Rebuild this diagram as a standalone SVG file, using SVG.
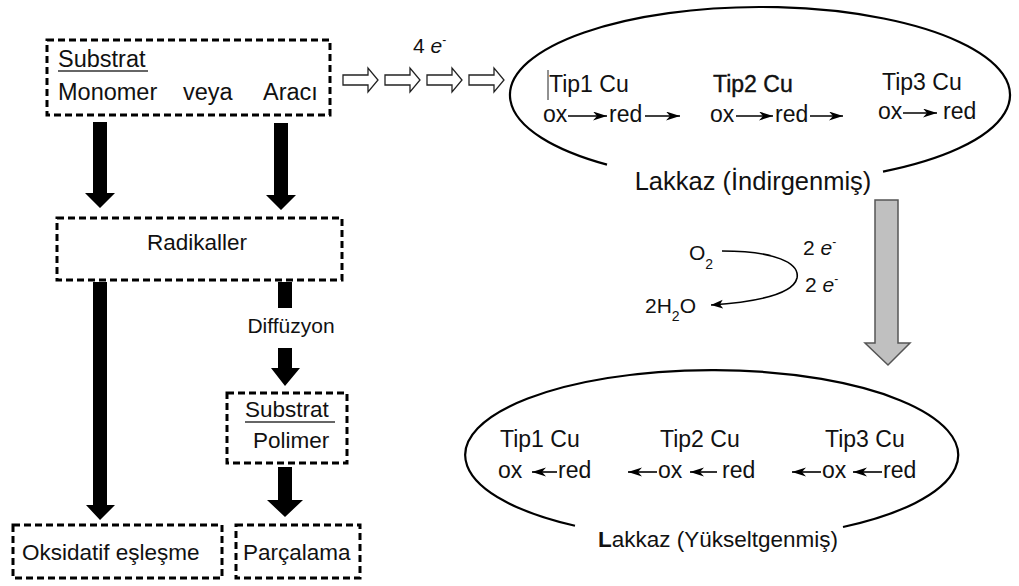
<svg xmlns="http://www.w3.org/2000/svg" width="1019" height="586" viewBox="0 0 1019 586">
<style>
text{font-family:"Liberation Sans",Arial,sans-serif;fill:#111}
.t23{font-size:23.5px}
.t22{font-size:22.5px}
.t21{font-size:21px}
.tc{font-size:23px}
.box{fill:none;stroke:#000;stroke-width:3;stroke-dasharray:7 4}
.blk{fill:#000}
.hol{fill:#fff;stroke:#222;stroke-width:1.3}
.ell{fill:none;stroke:#000;stroke-width:2.2}
.thin{fill:none;stroke:#000;stroke-width:1.6}
.ul{stroke:#333;stroke-width:1.3}
</style>
<defs>
<marker id="ah" markerUnits="userSpaceOnUse" markerWidth="15" markerHeight="10" refX="14" refY="4.5" orient="auto">
<path d="M0,0 L14,4.5 L0,9 L4,4.5 z" fill="#000"/>
</marker>
<marker id="ahc" markerUnits="userSpaceOnUse" markerWidth="14" markerHeight="10" refX="12" refY="4.5" orient="auto">
<path d="M0,0 L12,4.5 L0,9 L3,4.5 z" fill="#000"/>
</marker>
</defs>

<g id="substrat-monomer">
<rect class="box" x="47" y="40" width="283" height="75"/>
<text class="t23" x="58" y="67">Substrat</text>
<line class="ul" x1="58" y1="71" x2="148" y2="71"/>
<text class="t23" x="58" y="100">Monomer</text>
<text class="t23" x="183" y="100">veya</text>
<text class="t23" x="263" y="100">Aracı</text>
</g>

<g id="radikaller">
<rect class="box" x="57" y="218" width="285" height="62"/>
<text class="t22" x="197" y="250" text-anchor="middle">Radikaller</text>
</g>

<g id="diffuzyon">
<text class="t21" x="291" y="333" text-anchor="middle">Diffüzyon</text>
</g>

<g id="substrat-polimer">
<rect class="box" x="227" y="393" width="120" height="70"/>
<text class="t22" x="245" y="417">Substrat</text>
<line class="ul" x1="245" y1="422" x2="335" y2="422"/>
<text class="t22" x="253" y="448">Polimer</text>
</g>

<g id="oksidatif">
<rect class="box" x="13" y="525" width="209" height="53"/>
<text class="t22" x="22" y="560">Oksidatif eşleşme</text>
</g>

<g id="parcalama">
<rect class="box" x="236" y="525" width="124" height="53"/>
<text class="t22" x="243" y="560">Parçalama</text>
</g>

<g id="lakkaz-indirgenmis">
<path class="ell" d="M 607 164.6 A 250 88 0 1 1 883 171.6"/>
<line x1="548" y1="70" x2="548" y2="100" stroke="#222" stroke-width="1"/>
<text class="tc" x="549" y="92">Tip1 Cu</text>
<text class="tc" x="713" y="92" stroke="#111" stroke-width="0.4">Tip2 Cu</text>
<text class="tc" x="882" y="90">Tip3 Cu</text>
<text class="tc" x="543" y="122">ox</text>
<text class="tc" x="609" y="122">red</text>
<text class="tc" x="710" y="122">ox</text>
<text class="tc" x="775" y="122">red</text>
<text class="tc" x="878" y="119">ox</text>
<text class="tc" x="943" y="119">red</text>
<text x="753" y="190" text-anchor="middle" style="font-size:25.5px">Lakkaz (İndirgenmiş)</text>
</g>

<g id="lakkaz-yukseltgenmis">
<path class="ell" d="M 575 525.8 A 246.5 85 0 1 1 843 527"/>
<text class="tc" x="500" y="447">Tip1 Cu</text>
<text class="tc" x="660" y="447">Tip2 Cu</text>
<text class="tc" x="825" y="447">Tip3 Cu</text>
<text class="tc" x="498" y="478">ox</text>
<text class="tc" x="558" y="478">red</text>
<text class="tc" x="658" y="478">ox</text>
<text class="tc" x="722" y="478">red</text>
<text class="tc" x="822" y="478">ox</text>
<text class="tc" x="883" y="478">red</text>
<text x="718" y="547" text-anchor="middle" style="font-size:22.5px"><tspan font-weight="bold">L</tspan>akkaz (Yükseltgenmiş)</text>
</g>

<g id="oxygen">
<text class="t21" x="689" y="260">O<tspan font-size="14" dy="9">2</tspan></text>
<text class="t21" x="645" y="313">2H<tspan font-size="14" dy="8">2</tspan><tspan dy="-8">O</tspan></text>
<text class="t21" x="803" y="255">2 <tspan font-style="italic">e</tspan><tspan font-size="12" dy="-9">-</tspan></text>
<text class="t21" x="805" y="292">2 <tspan font-style="italic">e</tspan><tspan font-size="12" dy="-9">-</tspan></text>
</g>

<g id="electrons">
<text class="t21" x="413" y="53">4 <tspan font-style="italic">e</tspan><tspan font-size="12" dy="-9">-</tspan></text>
</g>

<g id="connectors">
<polygon class="blk" points="93,122 107,122 107,193 115,193 100,208 85,193 93,193"/>
<polygon class="blk" points="274,123 288,123 288,195 296,195 281,210 266,195 274,195"/>
<polygon class="blk" points="93,282 107,282 107,505 115,505 100,520 86,505 93,505"/>
<rect class="blk" x="278" y="282" width="14" height="26"/>
<polygon class="blk" points="278,348 292,348 292,368 300,368 285,386 271,368 278,368"/>
<polygon class="blk" points="278,467 292,467 292,500 303,500 285,517 267,500 278,500"/>
<polygon class="hol" points="343,75 368,75 368,68 378,80 368,92 368,85 343,85"/>
<polygon class="hol" points="385,75 410,75 410,68 420,80 410,92 410,85 385,85"/>
<polygon class="hol" points="427,75 452,75 452,68 462,80 452,92 452,85 427,85"/>
<polygon class="hol" points="469,75 494,75 494,68 504,80 494,92 494,85 469,85"/>
<polygon points="875,200 898,200 898,343 910,343 888,365 865,343 875,343" fill="#c0c0c0" stroke="#555" stroke-width="1.5"/>
<line class="thin" x1="568" y1="116" x2="607" y2="116" marker-end="url(#ah)"/>
<line class="thin" x1="645" y1="116" x2="680" y2="116" marker-end="url(#ah)"/>
<line class="thin" x1="736" y1="116" x2="773" y2="116" marker-end="url(#ah)"/>
<line class="thin" x1="810" y1="116" x2="843" y2="116" marker-end="url(#ah)"/>
<line class="thin" x1="903" y1="113" x2="937" y2="113" marker-end="url(#ah)"/>
<line class="thin" x1="557" y1="472" x2="532" y2="472" marker-end="url(#ah)"/>
<line class="thin" x1="657" y1="472" x2="628" y2="472" marker-end="url(#ah)"/>
<line class="thin" x1="717" y1="472" x2="690" y2="472" marker-end="url(#ah)"/>
<line class="thin" x1="821" y1="472" x2="792" y2="472" marker-end="url(#ah)"/>
<line class="thin" x1="882" y1="472" x2="853" y2="472" marker-end="url(#ah)"/>
<path class="thin" d="M 722 251 C 775 251, 800 263, 797 278 C 793 295, 755 302, 711 305" stroke-width="1.4" marker-end="url(#ahc)"/>
</g>
</svg>
